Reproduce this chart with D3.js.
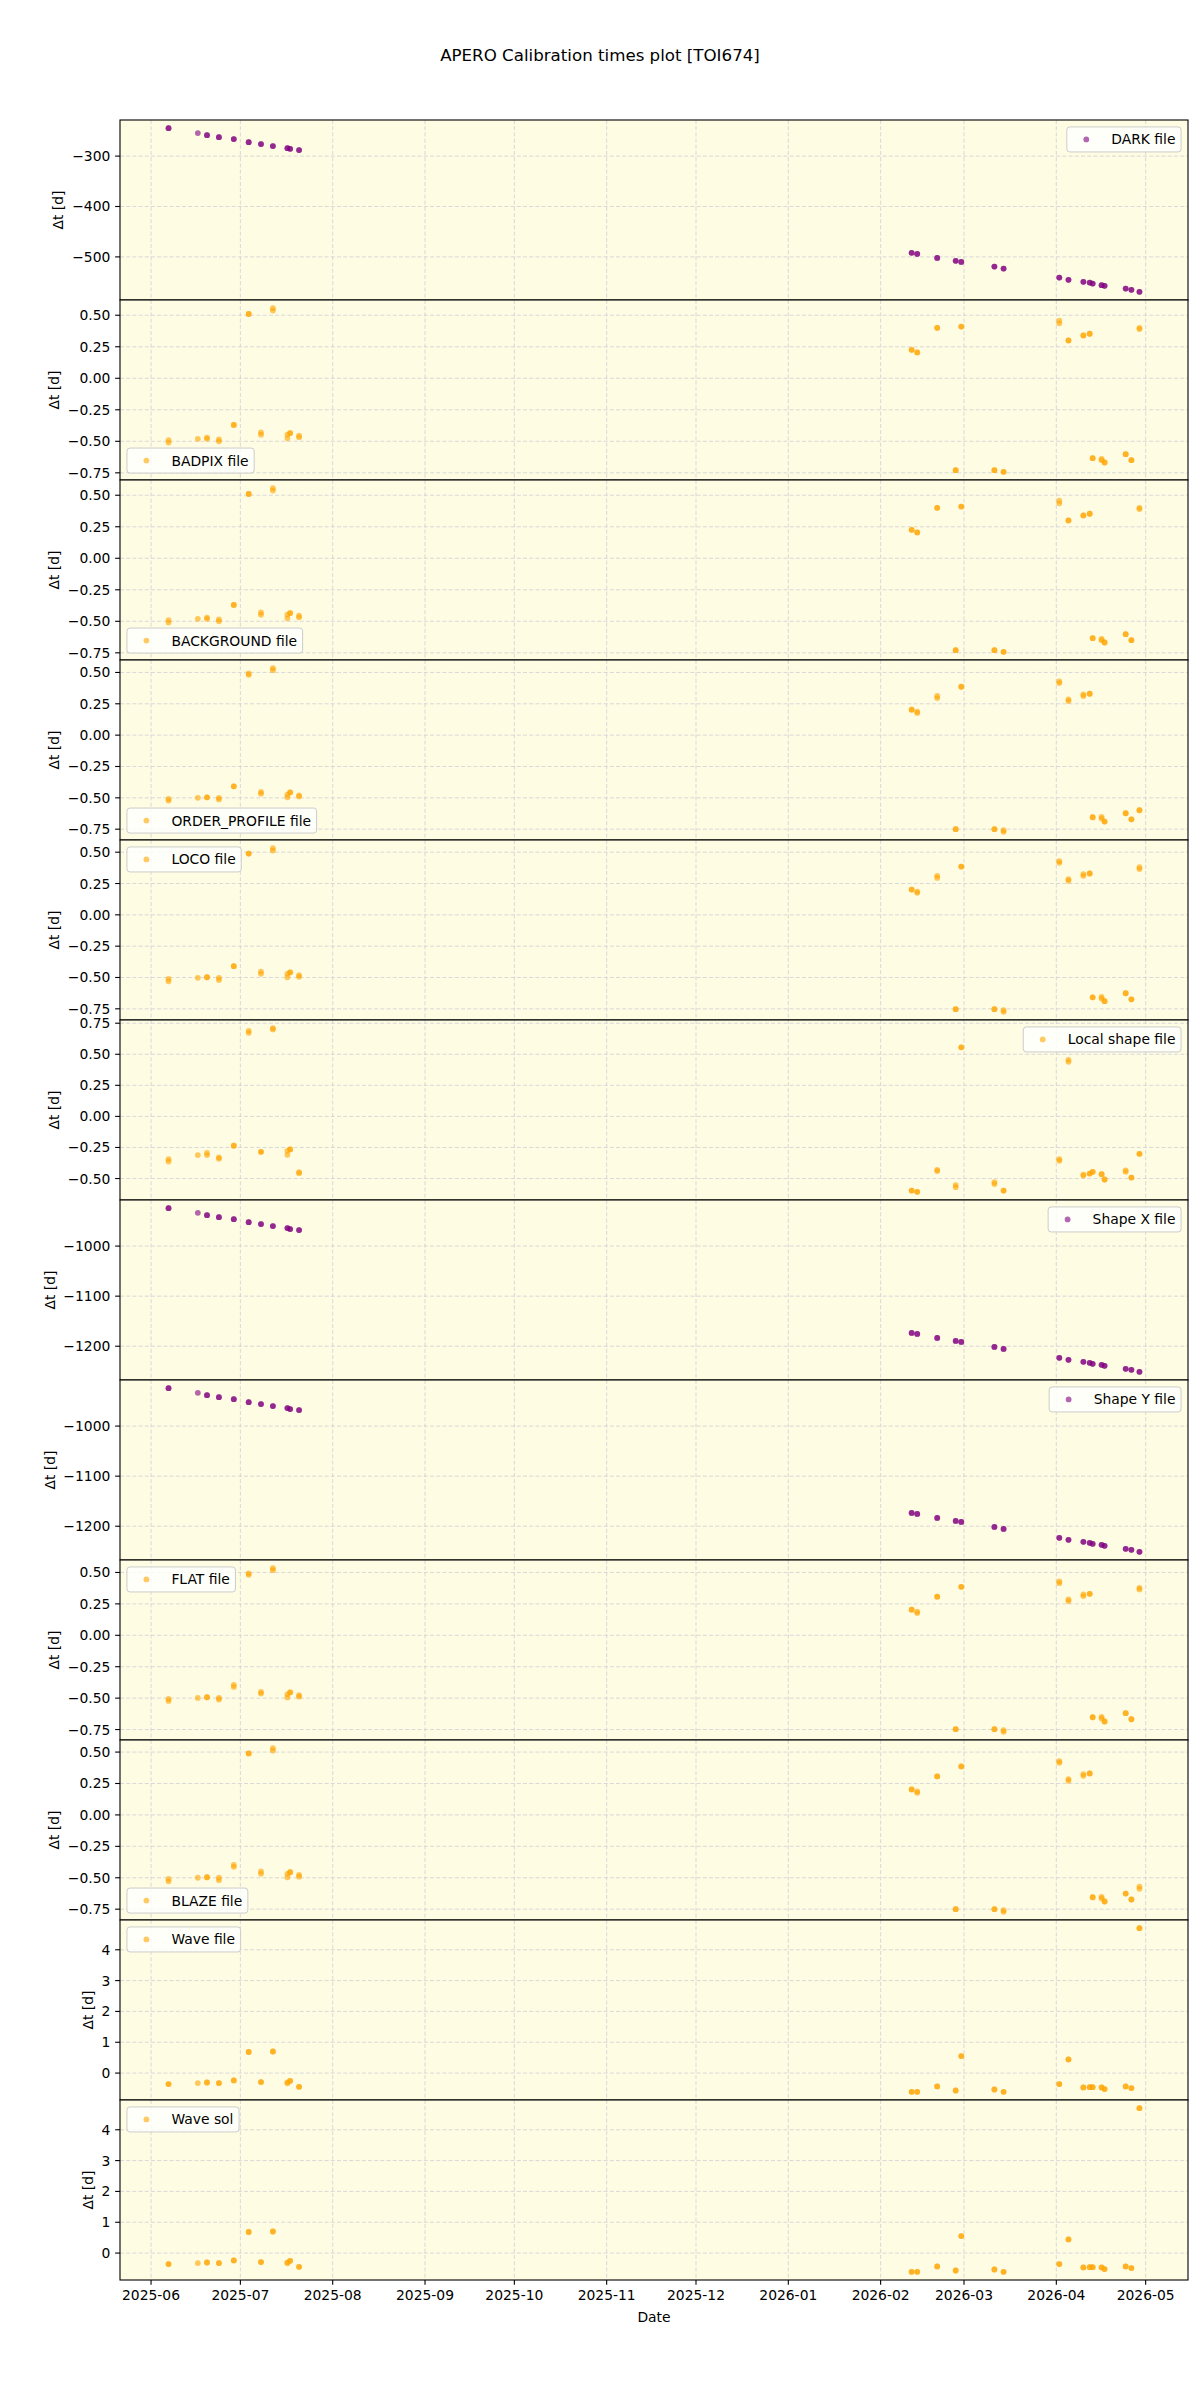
<!DOCTYPE html>
<html><head><meta charset="utf-8">
<script src="https://cdn.jsdelivr.net/npm/d3@7"></script>
<style>body{margin:0;background:#fff} svg{display:block} text{font-family:"DejaVu Sans",sans-serif;fill:#000}</style>
</head><body><svg id="chart" width="1200" height="2400"></svg>
<script>
// ---------------- DATA ----------------
const obsDates = ["2025-06-06T21:00","2025-06-16T17:00","2025-06-19T19:00","2025-06-23T19:00","2025-06-28T19:00",
  "2025-07-03T19:00","2025-07-07T22:00","2025-07-11T22:00","2025-07-16T19:00","2025-07-17T17:00","2025-07-20T17:00",
  "2026-02-11T10:00","2026-02-13T07:00","2026-02-20T00:00","2026-02-26T05:00","2026-02-28T02:00","2026-03-11T05:00",
  "2026-03-14T07:00","2026-04-02T00:00","2026-04-05T02:00","2026-04-10T02:00","2026-04-12T05:00","2026-04-13T05:00",
  "2026-04-16T05:00","2026-04-17T05:00","2026-04-24T07:00","2026-04-26T05:00","2026-04-28T22:00"];
// number of exposures per night (overlapping markers)
const obsPerNight = [2,1,2,2,2,2,2,2,2,2,2,2,2,2,2,2,2,2,2,2,2,2,2,2,2,2,2,2];

const darkFile = [-244.6,-254.4,-258.4,-262.4,-266.3,-272.3,-276.2,-280.2,-284.2,-285.5,-288.1,
  -492.1,-494.1,-502.0,-507.9,-509.9,-519.2,-523.2,-541.0,-545.5,-549.5,-550.9,-552.9,-556.2,-557.4,-562.8,-565.3,-569.3];
const badpixFile = [[-0.49,-0.51],-0.48,[-0.47,-0.48],[-0.485,-0.50],-0.37,0.51,[-0.43,-0.447],[0.556,0.537],[-0.447,-0.476],-0.435,[-0.455,-0.468],
  0.226,0.205,0.40,-0.729,0.41,-0.729,-0.742,[0.457,0.436],0.30,0.34,0.353,-0.634,[-0.64,-0.65],-0.668,-0.602,-0.65,[0.40,0.39]];
const backgroundFile = [[-0.49,-0.51],-0.48,[-0.47,-0.48],[-0.485,-0.50],-0.37,0.51,[-0.43,-0.447],[0.556,0.537],[-0.447,-0.476],-0.435,[-0.455,-0.468],
  0.226,0.205,0.40,-0.729,0.41,-0.729,-0.742,[0.457,0.436],0.30,0.34,0.353,-0.634,[-0.64,-0.65],-0.668,-0.602,-0.65,[0.40,0.39]];
const orderProfileFile = [[-0.509,-0.522],-0.50,-0.496,[-0.50,-0.513],-0.408,[0.492,0.481],[-0.453,-0.467],[0.534,0.518],[-0.475,-0.496],-0.456,[-0.48,-0.49],
  0.203,[0.187,0.177],[0.312,0.296],-0.75,0.386,-0.75,[-0.758,-0.771],[0.428,0.415],[0.285,0.272],[0.325,0.312],0.33,-0.655,[-0.652,-0.665],-0.689,-0.623,-0.671,-0.599];
const locoFile = [[-0.511,-0.53],-0.503,-0.498,[-0.503,-0.52],-0.41,0.489,[-0.453,-0.471],[0.532,0.513],[-0.471,-0.498],-0.459,[-0.482,-0.495],
  0.202,[0.186,0.176],[0.311,0.295],-0.753,0.385,-0.753,[-0.761,-0.774],[0.428,0.415],[0.285,0.272],[0.325,0.311],0.33,-0.658,[-0.655,-0.668],-0.689,-0.626,-0.674,[0.38,0.365]];
const localShapeFile = [[-0.344,-0.363],-0.311,[-0.293,-0.311],[-0.33,-0.34],-0.236,[0.689,0.673],-0.285,[0.71,0.70],[-0.277,-0.309],-0.266,[-0.449,-0.457],
  -0.597,-0.607,[-0.43,-0.44],[-0.553,-0.57],0.556,[-0.53,-0.545],-0.597,[-0.344,-0.357],[0.455,0.439],[-0.468,-0.476],-0.46,-0.446,-0.465,-0.508,[-0.435,-0.446],-0.492,-0.301];
const shapeXFile = [-924.3,-933.6,-938.2,-942.2,-946.2,-952.2,-956.1,-960.1,-964.1,-966.1,-968.1,
  -1173.4,-1175.4,-1183.4,-1189.4,-1191.4,-1201.3,-1205.3,-1223.2,-1227.2,-1231.2,-1233.2,-1235.2,-1237.2,-1239.2,-1245.2,-1247.2,-1251.1];
const shapeYFile = [-924.3,-933.6,-938.2,-942.2,-946.2,-952.2,-956.1,-960.1,-964.1,-966.1,-968.1,
  -1173.4,-1175.4,-1183.4,-1189.4,-1191.4,-1201.3,-1205.3,-1223.2,-1227.2,-1231.2,-1233.2,-1235.2,-1237.2,-1239.2,-1245.2,-1247.2,-1251.1];
const flatFile = [[-0.506,-0.522],-0.498,-0.493,[-0.498,-0.511],[-0.395,-0.411],[0.492,0.481],[-0.451,-0.464],[0.534,0.518],[-0.47,-0.494],-0.454,[-0.477,-0.488],
  0.204,[0.188,0.177],0.307,-0.747,0.386,-0.747,[-0.755,-0.768],[0.428,0.415],[0.285,0.272],[0.325,0.312],0.33,-0.652,[-0.649,-0.662],-0.686,-0.62,-0.668,[0.378,0.365]];
const blazeFile = [[-0.509,-0.528],-0.50,-0.496,[-0.50,-0.519],[-0.398,-0.413],0.489,[-0.45,-0.469],[0.531,0.512],[-0.469,-0.496],-0.456,[-0.477,-0.491],
  0.203,[0.187,0.176],0.306,-0.75,0.386,-0.75,[-0.758,-0.771],[0.428,0.415],[0.285,0.272],[0.325,0.311],0.33,-0.655,[-0.652,-0.665],-0.689,-0.626,-0.673,[-0.57,-0.588]];
const waveFile = [-0.358,-0.325,-0.305,-0.325,-0.24,0.683,-0.293,0.70,[-0.30,-0.33],-0.25,-0.445,
  -0.608,-0.608,-0.434,-0.565,0.553,-0.532,-0.608,-0.358,0.444,-0.467,-0.456,-0.456,-0.467,-0.52,-0.434,-0.488,4.70];
const waveSol = [-0.358,-0.325,-0.305,-0.325,-0.24,0.683,-0.293,0.70,[-0.30,-0.33],-0.25,-0.445,
  -0.608,-0.608,-0.434,-0.565,0.553,-0.532,-0.608,-0.358,0.444,-0.467,-0.456,-0.456,-0.467,-0.52,-0.434,-0.488,4.70];

const seriesLabels = ["DARK file","BADPIX file","BACKGROUND file","ORDER_PROFILE file","LOCO file","Local shape file",
  "Shape X file","Shape Y file","FLAT file","BLAZE file","Wave file","Wave sol"];
const seriesValues = [darkFile,badpixFile,backgroundFile,orderProfileFile,locoFile,localShapeFile,shapeXFile,shapeYFile,flatFile,blazeFile,waveFile,waveSol];
const quarterTicks = [0.50,0.25,0.00,-0.25,-0.50,-0.75];
const yTickValues = [[-300,-400,-500],quarterTicks,quarterTicks,quarterTicks,quarterTicks,[0.75,0.50,0.25,0.00,-0.25,-0.50],
  [-1000,-1100,-1200],[-1000,-1100,-1200],quarterTicks,quarterTicks,[0,1,2,3,4],[0,1,2,3,4]];
const yTickFormats = ["d",".2f",".2f",".2f",".2f",".2f","d","d",".2f",".2f","d","d"];
const legendLocs = ["ur","ll","ll","ll","ul","ur","ur","ur","ul","ll","ul","ul"];
const seriesColors = ["purple","orange","orange","orange","orange","orange","purple","purple","orange","orange","orange","orange"];
const titleText = "APERO Calibration times plot [TOI674]";
const xLabelText = "Date";
const yLabelText = "Δt [d]";

// ---------------- DRAW ----------------
const svg = d3.select("#chart");
const L = 120, R = 1188, T = 120, PH = 180;
const FS = 13.89;
const colorMap = {purple:"#800080", orange:"#ffa500"};
const parse = d3.utcParse("%Y-%m-%dT%H:%M");
const dates = obsDates.map(parse);
function padExt(a,b){const r=(b-a)*0.05;return [a-r,b+r];}
const ex = d3.extent(dates).map(Number);
const xd = padExt(ex[0],ex[1]);
const x = d3.scaleUtc().domain([new Date(xd[0]),new Date(xd[1])]).range([L,R]);
const xTicks = x.ticks(d3.utcMonth.every(1));

svg.append("text").attr("x",600).attr("y",61).attr("text-anchor","middle")
  .style("font-size","16.67px").text(titleText);

seriesValues.forEach((vals,i)=>{
  const y0 = T + i*PH;
  const pts = [];
  vals.forEach((v,j)=>{
    if (Array.isArray(v)) v.forEach(w=>pts.push({d:dates[j],v:w}));
    else for(let k=0;k<obsPerNight[j];k++) pts.push({d:dates[j],v:v});
  });
  const ye = d3.extent(pts,p=>p.v);
  const y = d3.scaleLinear().domain(padExt(ye[0],ye[1])).range([y0+PH,y0]);
  const g = svg.append("g");
  g.append("rect").attr("x",L).attr("y",y0).attr("width",R-L).attr("height",PH).attr("fill","#fefce2");
  const cid = "clip"+i;
  g.append("clipPath").attr("id",cid).append("rect").attr("x",L).attr("y",y0).attr("width",R-L).attr("height",PH);
  const grid = g.append("g").attr("stroke","#cfcfd6").attr("stroke-width",0.8).attr("stroke-dasharray","4,2.2").attr("clip-path",`url(#${cid})`);
  xTicks.forEach(t=>grid.append("line").attr("x1",x(t)).attr("x2",x(t)).attr("y1",y0).attr("y2",y0+PH));
  yTickValues[i].forEach(t=>grid.append("line").attr("x1",L).attr("x2",R).attr("y1",y(t)).attr("y2",y(t)));
  const col = colorMap[seriesColors[i]];
  g.append("g").attr("clip-path",`url(#${cid})`).selectAll("circle").data(pts).join("circle")
    .attr("cx",p=>x(p.d)).attr("cy",p=>y(p.v)).attr("r",2.9).attr("fill",col).attr("fill-opacity",0.6);
  // y axis
  const fmt = d3.format(yTickFormats[i]);
  let maxW = 0;
  yTickValues[i].forEach(t=>{
    const yy = y(t);
    g.append("line").attr("x1",L-4.86).attr("x2",L).attr("y1",yy).attr("y2",yy).attr("stroke","#000").attr("stroke-width",1.1);
    const tx = g.append("text").attr("x",L-9.7).attr("y",yy).attr("dy","0.36em").attr("text-anchor","end")
      .style("font-size",FS+"px").text(fmt(t));
    maxW = Math.max(maxW, tx.node().getComputedTextLength());
  });
  const lx = L - 9.7 - maxW - 5.56 - 3.3;
  g.append("text").attr("transform",`translate(${lx},${y0+PH/2}) rotate(-90)`).attr("text-anchor","middle")
    .style("font-size",FS+"px").text(yLabelText);
  // spines
  g.append("rect").attr("x",L).attr("y",y0).attr("width",R-L).attr("height",PH).attr("fill","none").attr("stroke","#000").attr("stroke-width",1.1);
  // legend
  const lg = g.append("g");
  const lt = lg.append("text").style("font-size",FS+"px").text(seriesLabels[i]);
  const tw = lt.node().getComputedTextLength();
  const bw = 5.56*2 + 27.8 + 11.1 + tw, bh = 25;
  const loc = legendLocs[i];
  const bx = loc[1]==="l" ? L+6.94 : R-6.94-bw;
  const by = loc[0]==="u" ? y0+6.94 : y0+PH-6.94-bh;
  lg.insert("rect","text").attr("x",bx).attr("y",by).attr("width",bw).attr("height",bh).attr("rx",3)
    .attr("fill","#fff").attr("fill-opacity",0.8).attr("stroke","#cccccc").attr("stroke-width",1);
  lg.insert("circle","text").attr("cx",bx+5.56+13.9).attr("cy",by+bh/2).attr("r",2.9).attr("fill",col).attr("fill-opacity",0.6);
  lt.attr("x",bx+5.56+27.8+11.1).attr("y",by+bh/2).attr("dy","0.36em");
});

// x axis on bottom panel
const yb = T + seriesValues.length*PH;
const xf = d3.utcFormat("%Y-%m");
xTicks.forEach(t=>{
  svg.append("line").attr("x1",x(t)).attr("x2",x(t)).attr("y1",yb).attr("y2",yb+4.86).attr("stroke","#000").attr("stroke-width",1.1);
  svg.append("text").attr("x",x(t)).attr("y",yb+9.7).attr("dy","0.76em").attr("text-anchor","middle").style("font-size",FS+"px").text(xf(t));
});
svg.append("text").attr("x",(L+R)/2).attr("y",yb+9.7+16.2+5.56).attr("dy","0.76em").attr("text-anchor","middle")
  .style("font-size",FS+"px").text(xLabelText);
</script></body></html>
